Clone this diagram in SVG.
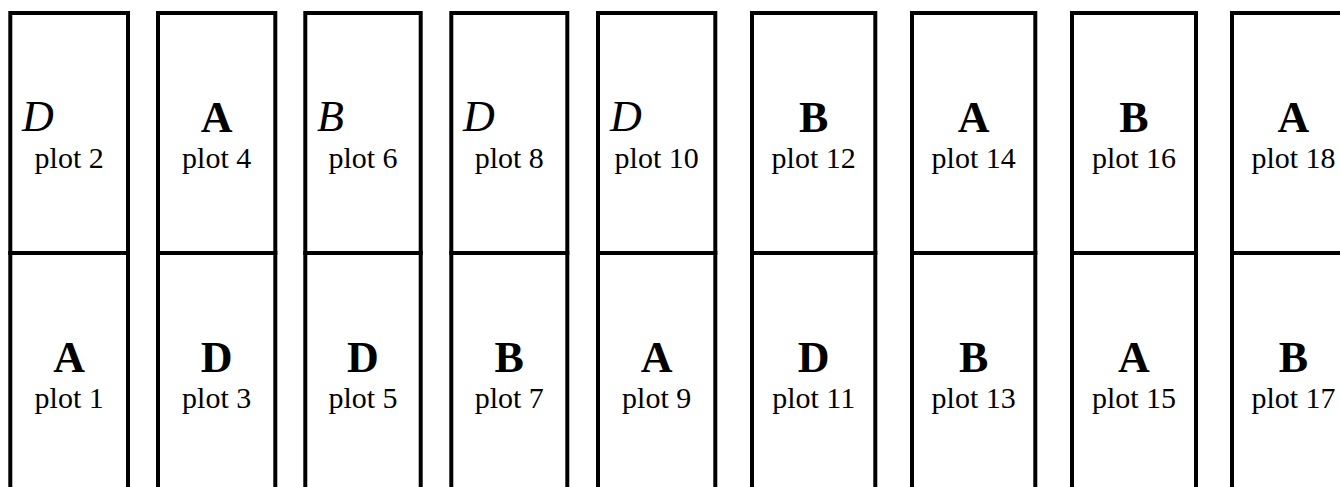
<svg xmlns="http://www.w3.org/2000/svg" width="1340" height="487" viewBox="0 0 1340 487">
<style>
.cell{fill:#fff;stroke:#000;stroke-width:4}
.b{font-family:"Liberation Serif","Times New Roman",serif;font-size:44px;font-weight:bold;text-anchor:middle;fill:#000}
.i{font-family:"Liberation Serif","Times New Roman",serif;font-size:44px;font-style:italic;fill:#000}
.p{font-family:"Liberation Serif","Times New Roman",serif;font-size:30px;text-anchor:middle;fill:#000}
</style>
<rect width="1340" height="487" fill="#fff"/>
<g id="plot1"><rect class="cell" x="10.3" y="253" width="117.7" height="260"/><text class="b" x="69.2" y="371.5">A</text><text class="p" x="69.2" y="408.3">plot 1</text></g>
<g id="plot2"><rect class="cell" x="10.3" y="13" width="117.7" height="240"/><text class="i" x="22" y="130.5">D</text><text class="p" x="69.2" y="168.3">plot 2</text></g>
<g id="plot3"><rect class="cell" x="158" y="253" width="117.3" height="260"/><text class="b" x="216.7" y="371.5">D</text><text class="p" x="216.7" y="408.3">plot 3</text></g>
<g id="plot4"><rect class="cell" x="158" y="13" width="117.3" height="240"/><text class="b" x="216.7" y="131.5">A</text><text class="p" x="216.7" y="168.3">plot 4</text></g>
<g id="plot5"><rect class="cell" x="305.3" y="253" width="115.4" height="260"/><text class="b" x="363" y="371.5">D</text><text class="p" x="363" y="408.3">plot 5</text></g>
<g id="plot6"><rect class="cell" x="305.3" y="13" width="115.4" height="240"/><text class="i" x="317" y="130.5">B</text><text class="p" x="363" y="168.3">plot 6</text></g>
<g id="plot7"><rect class="cell" x="451.3" y="253" width="116" height="260"/><text class="b" x="509.3" y="371.5">B</text><text class="p" x="509.3" y="408.3">plot 7</text></g>
<g id="plot8"><rect class="cell" x="451.3" y="13" width="116" height="240"/><text class="i" x="463" y="130.5">D</text><text class="p" x="509.3" y="168.3">plot 8</text></g>
<g id="plot9"><rect class="cell" x="598" y="253" width="117.3" height="260"/><text class="b" x="656.7" y="371.5">A</text><text class="p" x="656.7" y="408.3">plot 9</text></g>
<g id="plot10"><rect class="cell" x="598" y="13" width="117.3" height="240"/><text class="i" x="610" y="130.5">D</text><text class="p" x="656.7" y="168.3">plot 10</text></g>
<g id="plot11"><rect class="cell" x="752" y="253" width="123.3" height="260"/><text class="b" x="813.7" y="371.5">D</text><text class="p" x="813.7" y="408.3">plot 11</text></g>
<g id="plot12"><rect class="cell" x="752" y="13" width="123.3" height="240"/><text class="b" x="813.7" y="131.5">B</text><text class="p" x="813.7" y="168.3">plot 12</text></g>
<g id="plot13"><rect class="cell" x="912" y="253" width="123.3" height="260"/><text class="b" x="973.7" y="371.5">B</text><text class="p" x="973.7" y="408.3">plot 13</text></g>
<g id="plot14"><rect class="cell" x="912" y="13" width="123.3" height="240"/><text class="b" x="973.7" y="131.5">A</text><text class="p" x="973.7" y="168.3">plot 14</text></g>
<g id="plot15"><rect class="cell" x="1072" y="253" width="124" height="260"/><text class="b" x="1134" y="371.5">A</text><text class="p" x="1134" y="408.3">plot 15</text></g>
<g id="plot16"><rect class="cell" x="1072" y="13" width="124" height="240"/><text class="b" x="1134" y="131.5">B</text><text class="p" x="1134" y="168.3">plot 16</text></g>
<g id="plot17"><rect class="cell" x="1232" y="253" width="123" height="260"/><text class="b" x="1293.5" y="371.5">B</text><text class="p" x="1293.5" y="408.3">plot 17</text></g>
<g id="plot18"><rect class="cell" x="1232" y="13" width="123" height="240"/><text class="b" x="1293.5" y="131.5">A</text><text class="p" x="1293.5" y="168.3">plot 18</text></g>
<g id="connectors"/>
</svg>
